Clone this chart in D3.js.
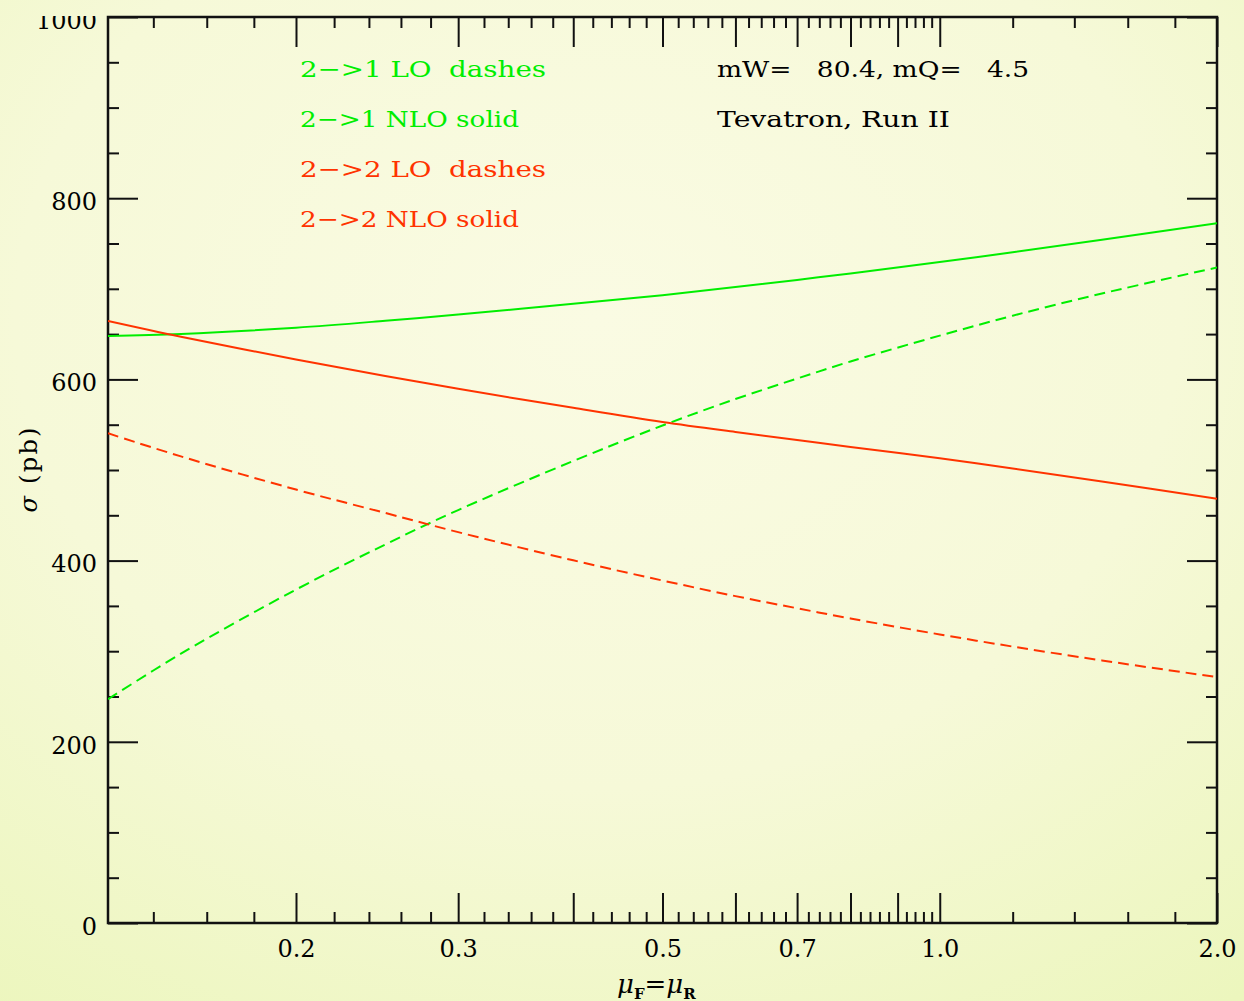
<!DOCTYPE html>
<html><head><meta charset="utf-8">
<script src="https://cdn.jsdelivr.net/npm/d3@7"></script>
<style>
html,body{margin:0;padding:0;overflow:hidden;background:#f5f8d6;}
svg{display:block;}
text{white-space:pre;}
</style></head><body>
<svg id="chart" width="1244" height="1001"></svg>
<script>
// ---- data ----
const mu     = [0.125, 0.15, 0.2, 0.25, 0.3, 0.4, 0.5, 0.6, 0.7, 0.8, 1.0, 1.2, 1.5, 2.0];
const lo21   = [247.0, 297.3, 368.0, 417.8, 455.8, 509.9, 549.1, 578.3, 600.9, 619.8, 648.3, 670.3, 694.8, 723.5];
const nlo21  = [648.0, 650.2, 657.1, 664.7, 671.6, 683.4, 693.0, 702.0, 709.8, 717.0, 729.5, 740.3, 754.2, 772.5];
const lo22   = [540.5, 515.0, 478.4, 452.6, 431.4, 400.3, 378.0, 360.8, 347.4, 336.1, 318.5, 305.1, 289.8, 271.4];
const nlo22  = [664.5, 647.1, 622.0, 603.8, 589.6, 568.6, 553.0, 542.0, 533.2, 525.5, 513.0, 501.7, 487.3, 468.3];

const xMajorTicks  = [0.2, 0.3, 0.4, 0.5, 0.6, 0.7, 0.8, 0.9, 1.0, 2.0];
const xLabelTicks  = [0.2, 0.3, 0.5, 0.7, 1.0, 2.0];
const xTickLabels  = ["0.2", "0.3", "0.5", "0.7", "1.0", "2.0"];
const yMajorTicks  = [0, 200, 400, 600, 800, 1000];
const yTickLabels  = ["0", "200", "400", "600", "800", "1000"];
const yMinorStep   = 50;

const legendTexts  = ["2\u2212>1 LO  dashes", "2\u2212>1 NLO solid", "2\u2212>2 LO  dashes", "2\u2212>2 NLO solid"];
const infoTexts    = ["mW=   80.4, mQ=   4.5", "Tevatron, Run II"];

// ---- layout ----
const W = 1244, H = 1001;
const L = 108, R = 1217, T = 17, B = 923;
const GREEN = "#00ee00", RED = "#ff3300";

const svg = d3.select("#chart");
const defs = svg.append("defs");
const grad = defs.append("radialGradient").attr("id", "bg")
  .attr("cx", "48%").attr("cy", "32%").attr("r", "85%");
grad.append("stop").attr("offset", "0%").attr("stop-color", "#fafbe3");
grad.append("stop").attr("offset", "55%").attr("stop-color", "#f6f9d8");
grad.append("stop").attr("offset", "100%").attr("stop-color", "#ecf6bd");
defs.append("clipPath").attr("id", "plotclip").append("rect")
  .attr("x", L).attr("y", T).attr("width", R - L).attr("height", B - T);
defs.append("clipPath").attr("id", "topclip").append("rect")
  .attr("x", -L).attr("y", T - 1).attr("width", W).attr("height", H);

svg.append("rect").attr("width", W).attr("height", H).attr("fill", "url(#bg)");

const x = d3.scaleLog().domain([0.125, 2.0]).range([L, R]);
const y = d3.scaleLinear().domain([0, 1000]).range([B, T]);

// minor tick values
const xMinorTicks = d3.range(14, 100, 2).map(d => d / 100)
  .concat(d3.range(12, 20, 2).map(d => d / 10))
  .filter(v => !xMajorTicks.some(m => Math.abs(m - v) < 1e-9));
const yMinorTicks = d3.range(0, 1001, yMinorStep).filter(v => v % 200 !== 0);

const fontSerif = "'DejaVu Serif', 'Liberation Serif', serif";

function styleAxis(g) {
  g.select(".domain").remove();
  g.selectAll(".tick line").attr("stroke", "#111").attr("stroke-width", 2);
  g.attr("font-family", fontSerif).attr("font-size", 24);
  g.selectAll("text").attr("fill", "#000");
}

const xLabelOf = v => {
  const i = xLabelTicks.findIndex(t => Math.abs(t - v) < 1e-9);
  return i >= 0 ? xTickLabels[i] : "";
};
const yLabelOf = v => {
  const i = yMajorTicks.indexOf(v);
  return i >= 0 ? yTickLabels[i] : "";
};

// bottom
svg.append("g").attr("transform", `translate(0,${B})`)
  .call(d3.axisBottom(x).tickValues(xMajorTicks).tickSize(-30).tickPadding(17).tickFormat(xLabelOf))
  .call(styleAxis);
svg.append("g").attr("transform", `translate(0,${B})`)
  .call(d3.axisBottom(x).tickValues(xMinorTicks).tickSize(-11).tickFormat(""))
  .call(styleAxis);
// top
svg.append("g").attr("transform", `translate(0,${T})`)
  .call(d3.axisTop(x).tickValues(xMajorTicks).tickSize(-30).tickFormat(""))
  .call(styleAxis);
svg.append("g").attr("transform", `translate(0,${T})`)
  .call(d3.axisTop(x).tickValues(xMinorTicks).tickSize(-11).tickFormat(""))
  .call(styleAxis);
// left
const gl = svg.append("g").attr("transform", `translate(${L},0)`).attr("clip-path", "url(#topclip)")
  .call(d3.axisLeft(y).tickValues(yMajorTicks).tickSize(-30).tickPadding(11).tickFormat(yLabelOf))
  .call(styleAxis);
gl.selectAll("text").attr("dy", "0.47em");
svg.append("g").attr("transform", `translate(${L},0)`)
  .call(d3.axisLeft(y).tickValues(yMinorTicks).tickSize(-11).tickFormat(""))
  .call(styleAxis);
// right
svg.append("g").attr("transform", `translate(${R},0)`)
  .call(d3.axisRight(y).tickValues(yMajorTicks).tickSize(-30).tickFormat(""))
  .call(styleAxis);
svg.append("g").attr("transform", `translate(${R},0)`)
  .call(d3.axisRight(y).tickValues(yMinorTicks).tickSize(-11).tickFormat(""))
  .call(styleAxis);

// frame
svg.append("rect").attr("x", L).attr("y", T).attr("width", R - L).attr("height", B - T)
  .attr("fill", "none").attr("stroke", "#111").attr("stroke-width", 2.5);

// curves
const line = d3.line().x(d => x(d[0])).y(d => y(d[1])).curve(d3.curveCatmullRom.alpha(0.5));
const series = [
  { vals: lo21,  color: GREEN, dash: "11,6" },
  { vals: nlo21, color: GREEN, dash: null },
  { vals: lo22,  color: RED,   dash: "11,6" },
  { vals: nlo22, color: RED,   dash: null }
];
const gp = svg.append("g").attr("clip-path", "url(#plotclip)");
series.forEach(s => {
  gp.append("path").datum(mu.map((m, i) => [m, s.vals[i]]))
    .attr("d", line).attr("fill", "none").attr("stroke", s.color)
    .attr("stroke-width", 2).attr("stroke-dasharray", s.dash);
});

// legend texts
const legendColors = [GREEN, GREEN, RED, RED];
const legendWidths = [246, 219, 246, 219];
legendTexts.forEach((t, i) => {
  svg.append("text").attr("x", 300).attr("y", 77 + i * 50)
    .attr("font-family", fontSerif).attr("font-weight", "300")
    .attr("font-size", 23).attr("fill", legendColors[i])
    .attr("textLength", legendWidths[i]).attr("lengthAdjust", "spacingAndGlyphs")
    .text(t);
});
const infoWidths = [312, 233];
infoTexts.forEach((t, i) => {
  svg.append("text").attr("x", 717).attr("y", 77 + i * 50)
    .attr("font-family", fontSerif).attr("font-size", 23).attr("fill", "#000")
    .attr("textLength", infoWidths[i]).attr("lengthAdjust", "spacingAndGlyphs")
    .text(t);
});

// x axis title
const xt = svg.append("text").attr("x", 617).attr("y", 993)
  .attr("font-family", fontSerif).attr("font-size", 26).attr("fill", "#000");
xt.append("tspan").attr("font-style", "italic").text("\u03bc");
xt.append("tspan").attr("font-size", 15).attr("font-weight", "bold").attr("dy", 6).text("F");
xt.append("tspan").attr("dy", -6).text("=");
xt.append("tspan").attr("font-style", "italic").text("\u03bc");
xt.append("tspan").attr("font-size", 15).attr("font-weight", "bold").attr("dy", 6).text("R");

// y axis title
const yt = svg.append("text").attr("transform", "translate(37,470) rotate(-90)")
  .attr("text-anchor", "middle").attr("font-family", fontSerif).attr("font-size", 24).attr("fill", "#000")
  .attr("textLength", 85).attr("lengthAdjust", "spacing");
yt.append("tspan").attr("font-style", "italic").text("\u03c3");
yt.append("tspan").text(" (pb)");
</script>
</body></html>
